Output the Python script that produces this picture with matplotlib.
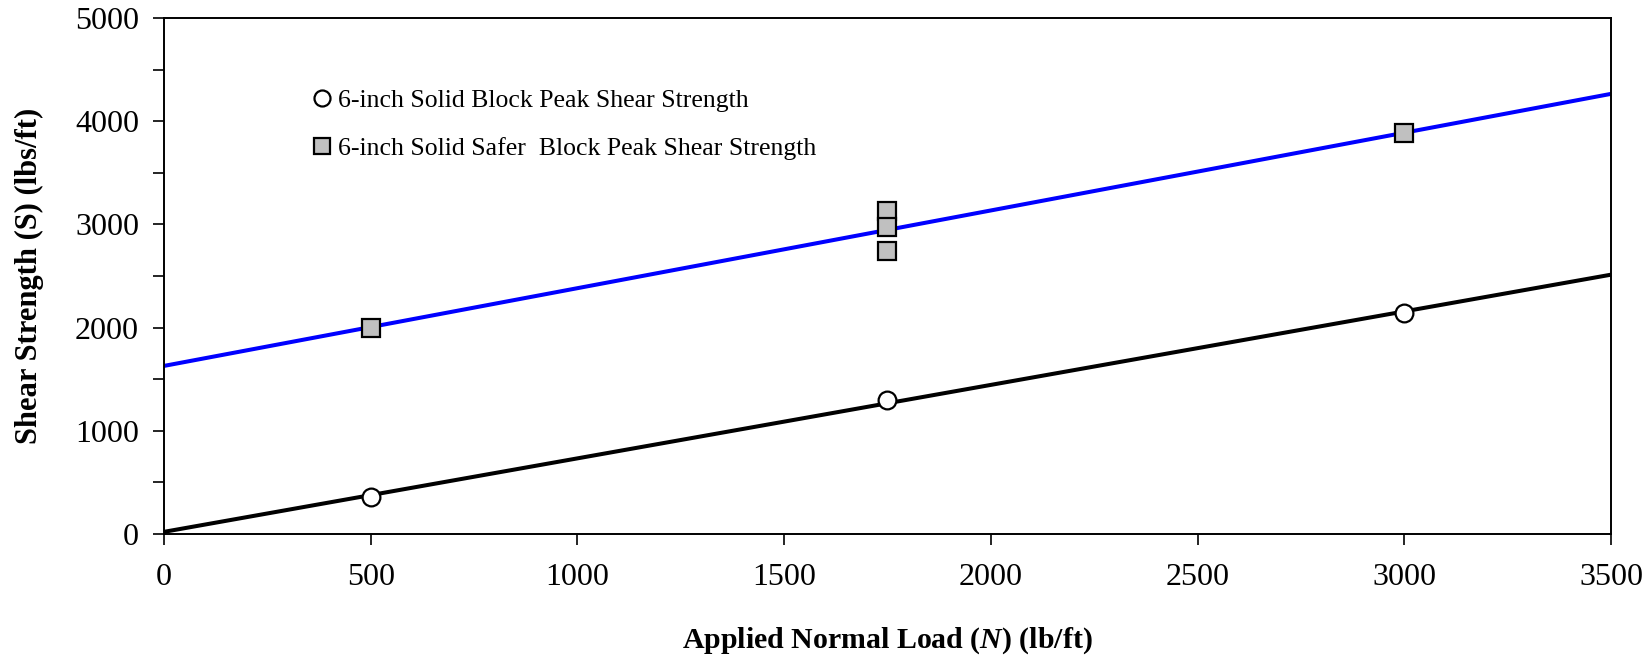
import numpy as np
import matplotlib
matplotlib.use("Agg")
import matplotlib.pyplot as plt
from matplotlib.ticker import MultipleLocator

plt.rcParams['font.family'] = ['Liberation Serif', 'DejaVu Serif']
plt.rcParams['mathtext.fontset'] = 'custom'
plt.rcParams['mathtext.it'] = 'Liberation Serif:italic:bold'
plt.rcParams['mathtext.rm'] = 'Liberation Serif:bold'

# Peak shear strength test results
solid_load = [500, 1750, 3000]
solid_shear = [360, 1300, 2140]
safer_load = [500, 1750, 1750, 1750, 3000]
safer_shear = [2000, 3133, 2972, 2745, 3883]

solid_label = "6-inch Solid Block Peak Shear Strength"
safer_label = "6-inch Solid Safer  Block Peak Shear Strength"

x_ticks = [0, 500, 1000, 1500, 2000, 2500, 3000, 3500]
y_ticks = [0, 1000, 2000, 3000, 4000, 5000]

fig = plt.figure(figsize=(16.51, 6.56), dpi=100)
ax = fig.add_axes([0.0993, 0.186, 0.8765, 0.7866])

# Linear trend lines across the full load range
xfit = np.array([0, 3500])
p_solid = np.polyfit(solid_load, solid_shear, 1)
p_safer = np.polyfit(safer_load, safer_shear, 1)
ax.plot(xfit, np.polyval(p_safer, xfit), color='#0000ff', lw=2.9, zorder=2)
ax.plot(xfit, np.polyval(p_solid, xfit), color='black', lw=2.9, zorder=2)

ax.plot(solid_load, solid_shear, linestyle='none', marker='o', ms=12.8,
        mfc='white', mec='black', mew=1.6, label=solid_label, zorder=3)
ax.plot(safer_load, safer_shear, linestyle='none', marker='s', ms=12.8,
        mfc='#c0c0c0', mec='black', mew=1.6, label=safer_label, zorder=3)

ax.set_xlim(0, 3500)
ax.set_ylim(0, 5000)
ax.set_xticks(x_ticks)
ax.set_yticks(y_ticks)
ax.yaxis.set_minor_locator(MultipleLocator(500))
ax.tick_params(axis='both', which='both', direction='out', length=8, width=1.2,
               labelsize=23)
ax.tick_params(axis='x', pad=13)
ax.tick_params(axis='y', pad=10)
for s in ax.spines.values():
    s.set_linewidth(1.4)

ax.set_xlabel(r"Applied Normal Load ($N$) (lb/ft)", fontsize=21.5, fontweight='bold',
              labelpad=24)
ax.set_ylabel("Shear Strength (S) (lbs/ft)", fontsize=22, fontweight='bold',
              labelpad=22)

ax.legend(loc='upper left', bbox_to_anchor=(0.097, 0.882), frameon=False,
          fontsize=18.5, handlelength=0.6, handletextpad=0.3, labelspacing=0.95,
          markerscale=0.9, borderaxespad=0)

fig.savefig("out.png", dpi=100)
